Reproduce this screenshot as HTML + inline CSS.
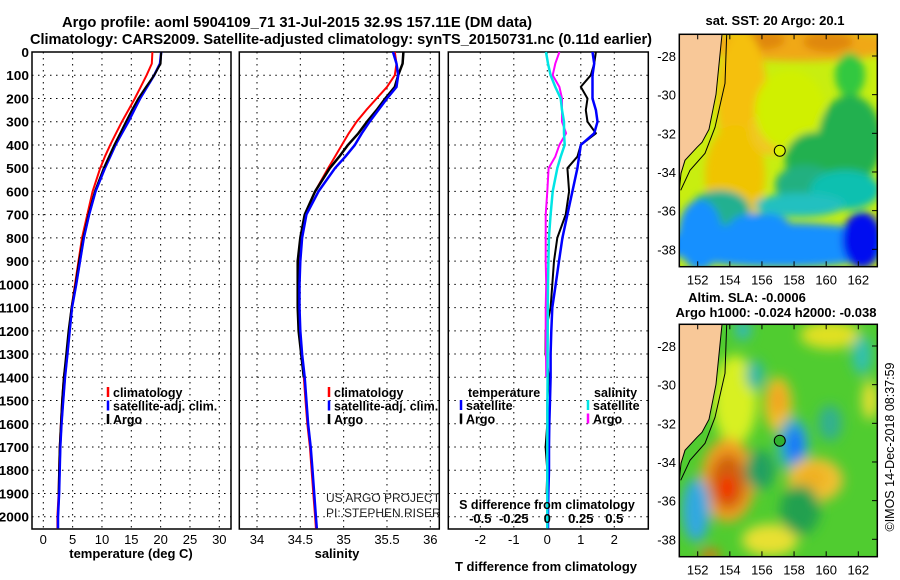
<!DOCTYPE html>
<html><head><meta charset="utf-8"><style>
body{margin:0;background:#fff;overflow:hidden;}
svg{display:block;font-family:"Liberation Sans",sans-serif;}
.b{font-weight:bold;}
</style></head><body>
<svg id="c" width="900" height="580" viewBox="0 0 900 580" xmlns="http://www.w3.org/2000/svg">
<defs>
<filter id="bl" x="-50%" y="-50%" width="200%" height="200%"><feGaussianBlur stdDeviation="6"/></filter>
<filter id="bl2" x="-50%" y="-50%" width="200%" height="200%"><feGaussianBlur stdDeviation="4"/></filter>
<clipPath id="m1"><rect x="679.3" y="34.3" width="198" height="232.4"/></clipPath>
<clipPath id="m2"><rect x="679.3" y="324.3" width="198" height="232.4"/></clipPath>
</defs>
<text x="62" y="27" class="b" font-size="15" textLength="470" lengthAdjust="spacingAndGlyphs">Argo profile: aoml 5904109_71 31-Jul-2015 32.9S 157.11E (DM data)</text>
<text x="30" y="44" class="b" font-size="15" textLength="622" lengthAdjust="spacingAndGlyphs">Climatology: CARS2009. Satellite-adjusted climatology: synTS_20150731.nc (0.11d earlier)</text>
<g id="plots"></g>
<g id="maps"></g>
</svg>
<script>
const depths=[0,50,100,150,200,250,300,350,400,450,500,600,700,800,900,1000,1100,1200,1300,1400,1500,1600,1700,1800,1900,2000,2050];
const tempClim=[18.6,18.5,17.6,16.6,15.6,14.5,13.4,12.4,11.4,10.5,9.7,8.4,7.5,6.6,6.0,5.4,4.8,4.4,4.0,3.5,3.2,3.0,2.8,2.7,2.6,2.4,2.4];
const tempSat=[20.1,19.9,18.9,17.7,16.5,15.5,14.5,13.4,12.3,11.4,10.5,8.9,7.8,6.9,6.25,5.6,4.9,4.5,4.1,3.7,3.4,3.1,2.9,2.8,2.7,2.5,2.5];
const tempArgo=[20.1,20.0,18.9,17.5,16.2,15.1,14.1,13.1,12.1,11.2,10.3,8.8,7.7,6.8,6.1,5.5,4.8,4.3,3.9,3.5,3.2,3.0,2.8,2.7,2.6,null,null];
const salClim=[35.59,35.61,35.59,35.50,35.38,35.26,35.15,35.06,34.98,34.90,34.82,34.67,34.55,34.51,34.48,34.48,34.48,34.49,34.51,34.54,34.56,34.58,34.61,34.63,34.65,34.67,34.68];
const salSat=[35.57,35.61,35.63,35.61,35.50,35.40,35.30,35.21,35.13,35.02,34.90,34.71,34.57,34.52,34.50,34.49,34.49,34.50,34.52,34.55,34.57,34.59,34.62,34.64,34.66,34.68,34.69];
const salArgo=[35.69,35.68,35.63,35.59,35.48,35.38,35.27,35.17,35.05,34.95,34.84,34.67,34.55,34.50,34.47,34.47,34.47,34.48,34.51,34.54,null,null,null,null,null,null,null];
const dTempSat=[1.35,1.4,1.35,1.35,1.35,1.45,1.5,1.4,1.0,0.95,0.9,0.75,0.6,0.45,0.35,0.25,0.15,0.12,0.1,0.1,0.08,0.06,0.05,0.05,0.03,0.02,0.02];
const dTempArgo=[1.45,1.4,1.3,1.0,1.2,1.15,1.2,1.45,1.0,0.9,0.6,0.65,0.55,0.3,0.2,0.15,0.1,-0.05,-0.05,0.05,0.0,0.0,-0.05,0.0,-0.02,null,null];
const dSalSat=[-0.01,0.005,0.025,0.06,0.1,0.11,0.125,0.125,0.13,0.1,0.075,0.04,0.025,0.012,0.008,0.005,0.004,0.003,0.002,0.002,0.001,0.001,0.0,0.0,0.0,0.0,0.0];
const dSalArgo=[0.09,0.06,0.04,0.09,0.11,0.11,0.11,0.14,0.09,0.06,0.01,0.0,-0.012,-0.012,-0.012,-0.008,-0.012,-0.012,-0.01,-0.008,null,null,null,null,null,null,null];
const depthTicks=[0,100,200,300,400,500,600,700,800,900,1000,1100,1200,1300,1400,1500,1600,1700,1800,1900,2000];
const tempTicks=[0,5,10,15,20,25,30];
const salTicks=[34,34.5,35,35.5,36];
const dTTicks=[-2,-1,0,1,2];
const dSTickLabels=["-0.5","-0.25","0","0.25","0.5"];
const lonTicks=[152,154,156,158,160,162];
const latTicks=[-28,-30,-32,-34,-36,-38];
const argoLon=157.11;
const argoLat=-32.9;

const NS="http://www.w3.org/2000/svg";
const P=document.getElementById('plots');
function mk(tag,at,par){const e=document.createElementNS(NS,tag);for(const k in at)e.setAttribute(k,at[k]);(par||P).appendChild(e);return e;}
const Y=d=>52+d*(464.7/2000);
const xT=v=>43.3+v*(176/30);
const xS=v=>257+(v-34)*(173.3/2);
const xD=v=>547.3+v*33.5;
const xDS=v=>547.3+v*4*33.5;

function panel(x0,x1,name){
  const r=mk('rect',{x:x0,y:52,width:x1-x0,height:477,fill:'none',stroke:'#000','stroke-width':1.5});
  
  
  depthTicks.forEach(d=>{
    const l=mk('line',{x1:x0,x2:x1,y1:Y(d),y2:Y(d),stroke:'#000','stroke-width':1,'stroke-dasharray':'1.5,4.5'});
    
    
  });
}
function vgrid(xs,name){xs.forEach(x=>{
  const l=mk('line',{x1:x,x2:x,y1:52,y2:529,stroke:'#000','stroke-width':1,'stroke-dasharray':'1.5,4.5'});
  
  
});}
function series(vals,xf,color,w,name){
  let d='';let pen=false;
  vals.forEach((v,i)=>{if(v===null){pen=false;return;}d+=(pen?'L':'M')+xf(v).toFixed(1)+','+Y(depths[i]).toFixed(1);pen=true;});
  const p=mk('path',{d:d,fill:'none',stroke:color,'stroke-width':w,'stroke-linejoin':'round'});
  
  
}
function txt(x,y,s,at,name){const t=mk('text',Object.assign({x:x,y:y},at));t.textContent=s;
  
  
  return t;}

panel(32,231,'temperature-panel');
vgrid(tempTicks.map(xT),'temperature-panel');
series(tempClim,xT,'#ff0000',2,'temp-climatology-line');
series(tempSat,xT,'#0000ff',2.5,'temp-satellite-line');
series(tempArgo,xT,'#000000',2,'temp-argo-line');
series(tempSat.map((v,i)=>i>9?v:null),xT,'#0000ff',2,'temp-satellite-line-deep');
depthTicks.forEach(d=>txt(29,Y(d)+5,String(d),{'text-anchor':'end','font-size':13,class:'b',textLength:String(d).length*7.6,lengthAdjust:'spacingAndGlyphs'},'depth-tick-label'));
tempTicks.forEach(v=>txt(xT(v),544,String(v),{'text-anchor':'middle','font-size':13},'temp-tick-label'));
txt(131,558,'temperature (deg C)',{'text-anchor':'middle','font-size':13,class:'b'},'temperature-axis-title');

panel(239.3,439.3,'salinity-panel');
vgrid(salTicks.map(xS),'salinity-panel');
series(salClim,xS,'#ff0000',2,'sal-climatology-line');
series(salArgo,xS,'#000000',2.5,'sal-argo-line');
series(salSat,xS,'#0000ff',2.5,'sal-satellite-line');
salTicks.forEach(v=>txt(xS(v),544,String(v),{'text-anchor':'middle','font-size':13},'sal-tick-label'));
txt(337,558,'salinity',{'text-anchor':'middle','font-size':13,class:'b'},'salinity-axis-title');
txt(326,502,'US ARGO PROJECT',{'font-size':12,fill:'#222'},'credit-project');
txt(326,517,'PI: STEPHEN RISER',{'font-size':12,fill:'#222'},'credit-pi');

panel(448.3,648.3,'difference-panel');
vgrid(dTTicks.map(xD),'difference-panel');
series(dTempArgo,xD,'#000000',2,'dtemp-argo-line');
series(dTempSat,xD,'#0000ff',2.5,'dtemp-satellite-line');
series(dSalArgo,xDS,'#ff00ff',2,'dsal-argo-line');
series(dSalSat,xDS,'#00e5e5',2.5,'dsal-satellite-line');
dTTicks.forEach(v=>txt(xD(v),544,String(v),{'text-anchor':'middle','font-size':13},'dtemp-tick-label'));
dSTickLabels.forEach((s,i)=>txt(xD(dTTicks[i]),523,s,{'text-anchor':'middle','font-size':13,class:'b'},'dsal-tick-label'));
txt(547,509,'S difference from climatology',{'text-anchor':'middle','font-size':12.5,class:'b'},'dsal-axis-title');
txt(546,571,'T difference from climatology',{'text-anchor':'middle','font-size':13,class:'b'},'dtemp-axis-title');

function legend(x,y,items,name){items.forEach((it,i)=>{
  const l=mk('line',{x1:x,x2:x,y1:y+i*13.5-11,y2:y+i*13.5-1,stroke:it[1],'stroke-width':2.5});
  
  
  txt(x+5,y+i*13.5-1,it[0],{'font-size':12.5,class:'b'},name+'-label');
});}
legend(108,398,[['climatology','#ff0000'],['satellite-adj. clim.','#0000ff'],['Argo','#000000']],'temp-legend');
legend(329,398,[['climatology','#ff0000'],['satellite-adj. clim.','#0000ff'],['Argo','#000000']],'sal-legend');
txt(468,397,'temperature',{'font-size':12.5,class:'b'},'diff-legend-temp-header');
txt(594,397,'salinity',{'font-size':12.5,class:'b'},'diff-legend-sal-header');
legend(461,411,[['satellite','#0000ff'],['Argo','#000000']],'diff-legend-temp');
legend(588,411,[['satellite','#00e5e5'],['Argo','#ff00ff']],'diff-legend-sal');

// maps
const M=document.getElementById('maps');
const lonX=v=>697.7+(v-152)*16.06;
function latY(top,v){return top+21.7+(-28-v)*19.33;}
function mapFrame(top,clip,blobs,name){
  const g=mk('g',{'clip-path':'url(#'+clip+')'},M);
  
  
  mk('rect',{x:679.3,y:top,width:198,height:232.4,fill:blobs.bg},g);
  const gb=mk('g',{filter:'url(#'+blobs.f+')'},g);
  blobs.items.forEach(b=>mk('ellipse',{cx:b[0],cy:b[1],rx:b[2],ry:b[3],fill:b[4]},gb));
  mk('path',{d:`M679,${top} L722,${top} L719,${top+30} L716,${top+60} L713,${top+75} L709,${top+95} L702,${top+108} L697,${top+113} L685,${top+126} L681,${top+139} L679,${top+159} Z`,fill:'#f8c898',stroke:'#000','stroke-width':1},g);
  mk('path',{d:`M726.7,${top} L726,${top+20} L725,${top+49} L715,${top+93} L705,${top+119} L690,${top+136} L680.7,${top+156}`,fill:'none',stroke:'#000','stroke-width':1},g);
  mk('circle',{cx:lonX(argoLon),cy:latY(top,argoLat),r:5.5,fill:blobs.dot,stroke:'#000','stroke-width':1},g);
  const fr=mk('rect',{x:679.3,y:top,width:198,height:232.4,fill:'none',stroke:'#000','stroke-width':1.5},M);
  
  
  latTicks.forEach(v=>{
    mk('line',{x1:877,x2:872,y1:latY(top,v),y2:latY(top,v),stroke:'#000'},M);
    const t=mk('text',{x:676,y:latY(top,v)+5,'text-anchor':'end','font-size':13},M);t.textContent=String(v);
    
    
  });
  lonTicks.forEach(v=>{
    mk('line',{x1:lonX(v),x2:lonX(v),y1:top+232,y2:top+227,stroke:'#000'},M);
    mk('line',{x1:lonX(v),x2:lonX(v),y1:top,y2:top+5,stroke:'#000'},M);
    const t=mk('text',{x:lonX(v),y:top+250,'text-anchor':'middle','font-size':13},M);t.textContent=String(v);
    
    
  });
}
mapFrame(34.3,'m1',{bg:'#c8ee10',f:'bl2',dot:'#d8f000',items:[
 [800,45,100,16,'#f0a818'],[760,40,25,10,'#e08810'],[828,42,25,10,'#e08810'],
 [742,100,25,70,'#f5c010'],[735,175,30,50,'#f0c400'],[770,130,20,25,'#f0c820'],
 [790,110,35,40,'#d0f000'],
 [850,75,15,22,'#30c840'],[850,140,32,45,'#20b050'],[815,160,30,28,'#20b050'],
 [805,185,30,20,'#20b080'],[845,190,35,20,'#10c0b0'],[720,210,30,20,'#20b090'],
 [800,205,45,12,'#20c0c0'],
 [780,245,120,22,'#1890ff'],[700,235,22,35,'#1890ff'],[760,225,30,12,'#1890ff'],
 [862,240,20,28,'#0010f0'],[700,75,8,20,'#d0f000']]});
mapFrame(324.3,'m2',{bg:'#50cc30',f:'bl',dot:'#30b030',items:[
 [735,400,22,45,'#d8f020'],[770,540,28,16,'#e8e030'],[830,335,30,14,'#e0e020'],[870,400,8,20,'#e8e030'],
 [778,405,14,28,'#f0c020'],[778,400,7,15,'#f0a020'],
 [743,330,8,10,'#30b8c0'],[755,375,9,15,'#30b8a8'],[862,355,10,20,'#30c0b0'],[830,423,12,18,'#30b090'],
 [793,445,16,28,'#30b0c0'],[795,445,8,18,'#1870ff'],
 [728,480,27,42,'#f0a020'],[728,482,18,28,'#d06010'],[727,488,6,12,'#ff0000'],
 [696,510,14,32,'#30a8e0'],[815,480,28,22,'#f0c030'],[812,478,15,12,'#f0b020'],
 [710,555,10,6,'#e07010'],[800,510,20,25,'#20a050'],[760,470,15,20,'#20a060']]});
function mt(x,y,s,name){const t=mk('text',{x:x,y:y,'text-anchor':'middle','font-size':13,class:'b'},M);t.textContent=s;
 
 }
mt(775,25,'sat. SST: 20 Argo: 20.1','sst-map-title');
mt(747,302,'Altim. SLA: -0.0006','sla-map-title');
mt(776,317,'Argo h1000: -0.024 h2000: -0.038','sla-map-subtitle');
const ts=mk('text',{x:0,y:0,'text-anchor':'middle','font-size':12.5,transform:'translate(894,447) rotate(-90)'},M);
ts.textContent='©IMOS 14-Dec-2018 08:37:59';


</script>
</body></html>
